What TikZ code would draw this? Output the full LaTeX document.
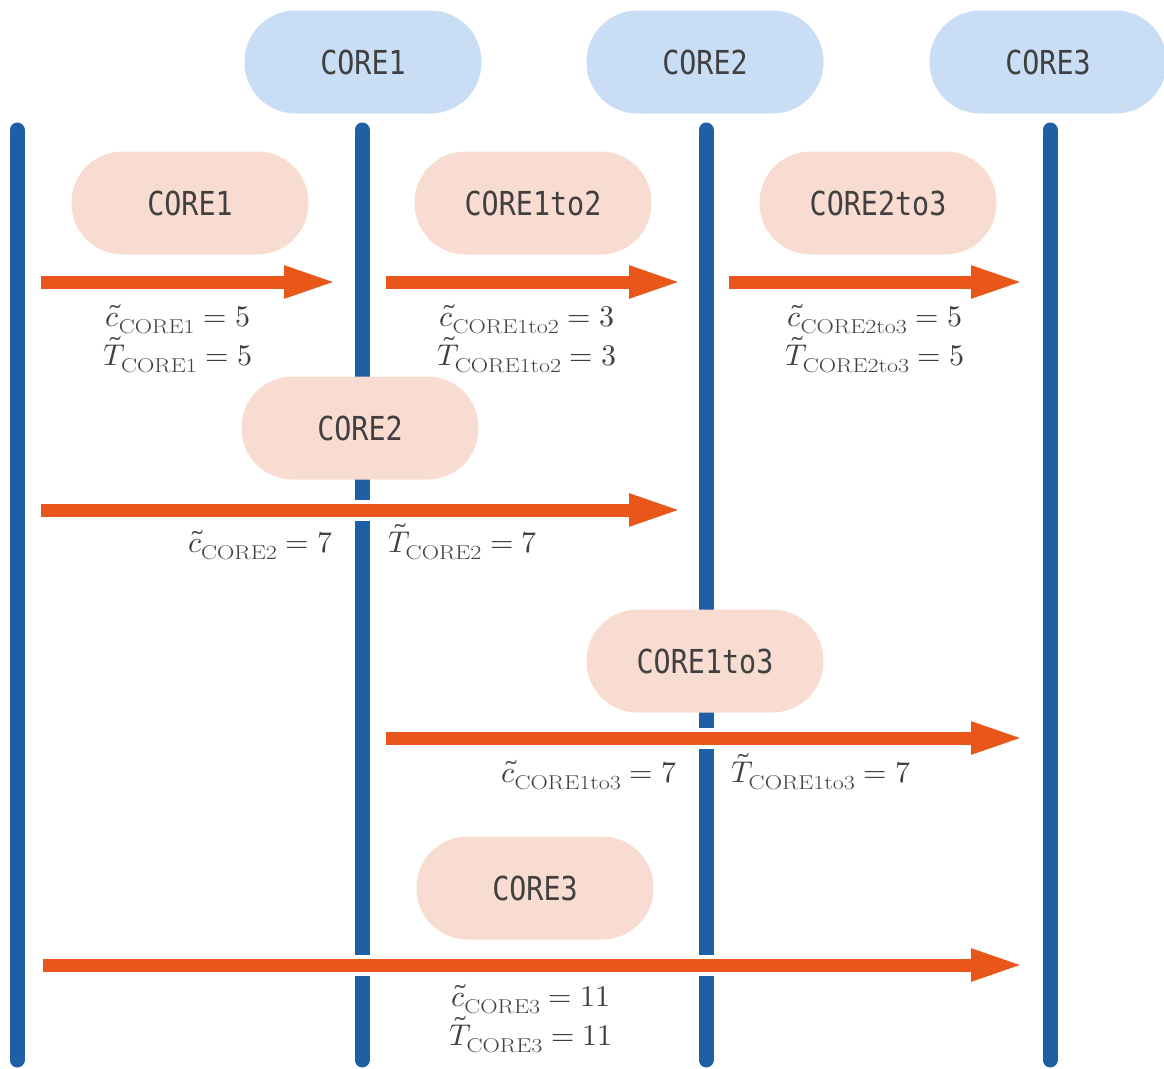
\documentclass[tikz,border=0pt]{standalone}
\usepackage{fontspec}
\usepackage{unicode-math}
\setmathfont{Latin Modern Math}
\newfontfamily\pillfont[FakeStretch=0.86]{DejaVu Sans Mono}
\newfontfamily\subfont[FakeStretch=1.2]{Latin Modern Roman}
\usetikzlibrary{arrows.meta}
\definecolor{lanecol}{HTML}{1F5FA5}
\definecolor{flowcol}{HTML}{E8561A}
\definecolor{headfill}{HTML}{C9DEF4}
\definecolor{taskfill}{HTML}{F9DCD1}
\definecolor{ink}{HTML}{404040}
% subscript name set in a wide roman at a fixed size
\newcommand{\subname}[1]{\mbox{\subfont\fontsize{20}{22}\selectfont #1}}
\tikzset{
  pill/.style={rectangle, rounded corners=51pt, minimum width=237pt,
    minimum height=103pt, inner sep=0pt, text=ink,
    font=\pillfont\fontsize{33}{36}\selectfont},
  header/.style={pill, fill=headfill},
  task/.style={pill, fill=taskfill},
  lifeline/.style={draw=lanecol, line width=15pt, line cap=round},
  gapband/.style={draw=white, line width=21pt},
  flow/.style={draw=flowcol, line width=13pt,
    -{Triangle[length=54pt,width=29pt]}},
  lbl/.style={text=ink, inner sep=0pt, font=\fontsize{30}{36}\selectfont}
}
\begin{document}
\begin{tikzpicture}[x=1pt,y=-1pt]
\useasboundingbox (0,0) rectangle (1164,1068);

% lifelines
\foreach \n/\x in {0/17,1/362,2/706,3/1050}{
  \coordinate (lt\n) at (\x,130);
  \coordinate (lb\n) at (\x,1060);
}
\foreach \n in {0,1,2,3}{ \draw[lifeline] (lt\n) -- (lb\n); }

% arrow end points
\coordinate (s1) at (41,282);   \coordinate (e1) at (338,282);
\coordinate (s12) at (386,282); \coordinate (e12) at (683,282);
\coordinate (s23) at (729,282); \coordinate (e23) at (1025,282);
\coordinate (s2) at (41,510);   \coordinate (e2) at (683,510);
\coordinate (s13) at (386,738); \coordinate (e13) at (1025,738);
\coordinate (s3) at (43,965);   \coordinate (e3) at (1025,965);

% white bands interrupt the lifelines under each arrow
\foreach \a in {1,12,23,2,13,3}{ \draw[gapband] (s\a) -- (e\a); }
\foreach \a in {1,12,23,2,13,3}{ \draw[flow] (s\a) -- (e\a); }

% headers
\node[header] (h1) at (363,62) {CORE1};
\node[header] (h2) at (705,62) {CORE2};
\node[header] (h3) at (1048,62) {CORE3};

% tasks
\node[task] (t1) at (190,203) {CORE1};
\node[task] (t12) at (533,203) {CORE1to2};
\node[task] (t23) at (878,203) {CORE2to3};
\node[task] (t2) at (360,428) {CORE2};
\node[task] (t13) at (705,661) {CORE1to3};
\node[task] (t3) at (535,888) {CORE3};

% costs and times
\node[lbl, anchor=base] (c1) at (178,326) {$\tilde{c}_{\subname{CORE1}} = 5$};
\node[lbl, anchor=base] (T1) at (178,365) {$\tilde{T}_{\subname{CORE1}} = 5$};
\node[lbl, anchor=base] (c12) at (527,326) {$\tilde{c}_{\subname{CORE1to2}} = 3$};
\node[lbl, anchor=base] (T12) at (527,365) {$\tilde{T}_{\subname{CORE1to2}} = 3$};
\node[lbl, anchor=base] (c23) at (875,326) {$\tilde{c}_{\subname{CORE2to3}} = 5$};
\node[lbl, anchor=base] (T23) at (875,365) {$\tilde{T}_{\subname{CORE2to3}} = 5$};
\node[lbl, anchor=base east] (c2) at (333,552) {$\tilde{c}_{\subname{CORE2}} = 7$};
\node[lbl, anchor=base west] (T2) at (388,552) {$\tilde{T}_{\subname{CORE2}} = 7$};
\node[lbl, anchor=base east] (c13) at (677,782) {$\tilde{c}_{\subname{CORE1to3}} = 7$};
\node[lbl, anchor=base west] (T13) at (731,782) {$\tilde{T}_{\subname{CORE1to3}} = 7$};
\node[lbl, anchor=base] (c3) at (531,1006) {$\tilde{c}_{\subname{CORE3}} = 11$};
\node[lbl, anchor=base] (T3) at (531,1045) {$\tilde{T}_{\subname{CORE3}} = 11$};
\end{tikzpicture}
\end{document}
